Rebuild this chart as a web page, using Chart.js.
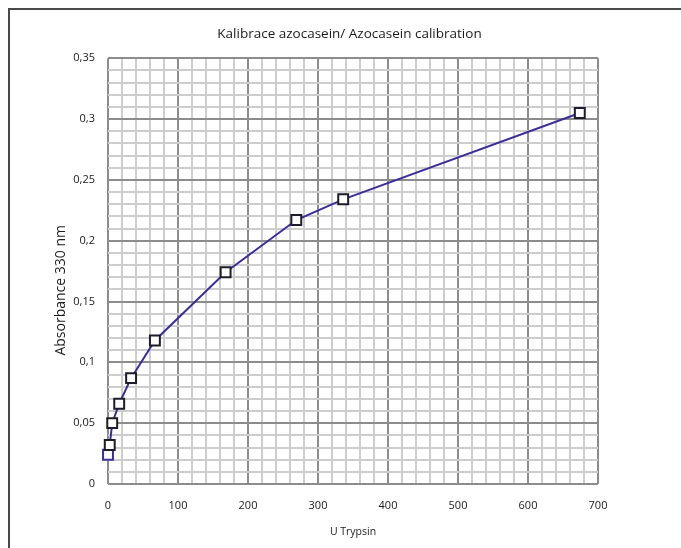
<!DOCTYPE html>
<html><head><meta charset="utf-8">
<script src="https://cdn.jsdelivr.net/npm/chart.js@4"></script>
<style>html,body{margin:0;padding:0;background:#fff;overflow:hidden}</style>
</head><body>
<canvas id="c" width="681" height="548"></canvas>
<script>
const trypsinUnits = [0, 2.5, 6, 16, 33, 67, 168, 269, 336, 674];
const absorbance = [0.024, 0.032, 0.050, 0.066, 0.087, 0.118, 0.174, 0.217, 0.234, 0.305];
const xMajorTicks = [0, 100, 200, 300, 400, 500, 600, 700];
const yMajorTicks = ['0', '0,05', '0,1', '0,15', '0,2', '0,25', '0,3', '0,35'];
const chartTitle = 'Kalibrace azocasein/ Azocasein calibration';
const xTitle = 'U Trypsin';
const yTitle = 'Absorbance 330 nm';

const FONT = '"Open Sans", "Noto Sans", sans-serif';
const lineColor = '#3a2d9c';
const markerColor = '#1c1c2a';

const frame = {
  id: 'frame',
  beforeDraw(chart) {
    const ctx = chart.ctx;
    ctx.save();
    ctx.fillStyle = '#fff';
    ctx.fillRect(0, 0, chart.width, chart.height);
    ctx.strokeStyle = '#4a4a4a';
    ctx.lineWidth = 2;
    ctx.beginPath();
    ctx.moveTo(9, chart.height);
    ctx.lineTo(9, 9);
    ctx.lineTo(chart.width, 9);
    ctx.stroke();
    ctx.restore();
  }
};

// y-axis title, placed where the reference puts it (slightly below the plot centre)
const yAxisTitle = {
  id: 'yAxisTitle',
  afterDraw(chart) {
    const ctx = chart.ctx;
    const area = chart.chartArea;
    ctx.save();
    ctx.translate(61, area.top + (area.bottom - area.top) * 0.545);
    ctx.rotate(-Math.PI / 2);
    ctx.fillStyle = '#1a1a1a';
    ctx.font = '14px ' + FONT;
    ctx.textAlign = 'center';
    ctx.textBaseline = 'middle';
    ctx.fillText(yTitle, 0, 0);
    ctx.restore();
  }
};

const points = trypsinUnits.map((x, i) => ({x, y: absorbance[i]}));

new Chart(document.getElementById('c'), {
  type: 'line',
  data: {
    datasets: [{
      data: points,
      clip: false,
      borderColor: lineColor,
      borderWidth: 2,
      pointStyle: 'rect',
      pointRadius: 7,
      pointHoverRadius: 7,
      pointBorderWidth: 2,
      pointBackgroundColor: '#ffffff',
      pointBorderColor: points.map((p, i) => i === 0 ? lineColor : markerColor),
      tension: 0
    }]
  },
  options: {
    responsive: false,
    animation: false,
    events: [],
    layout: { padding: { left: 18, right: 0, top: 0, bottom: 0 } },
    plugins: {
      legend: { display: false },
      tooltip: { enabled: false },
      title: {
        display: true,
        text: chartTitle,
        color: '#1a1a1a',
        font: { family: FONT, size: 13.5, weight: 'normal', lineHeight: 1.2 },
        padding: { top: 26, bottom: 16 }
      }
    },
    scales: {
      x: {
        type: 'linear',
        min: 0, max: 700,
        afterBuildTicks(scale) {
          const t = [];
          for (let v = 0; v <= 700; v += 20) t.push({ value: v });
          scale.ticks = t;
        },
        afterFit(scale) { scale.height = 548 - 484; },
        ticks: {
          autoSkip: false,
          maxRotation: 0,
          padding: 15,
          color: '#1a1a1a',
          font: { family: FONT, size: 11 },
          callback: (v) => xMajorTicks.includes(v) ? String(v) : ''
        },
        grid: {
          drawTicks: false,
          color: (c) => (c.tick && c.tick.value % 100 === 0) ? '#8c8c8c' : '#cdcdcd',
          lineWidth: 2
        },
        border: { display: false },
        title: {
          display: true,
          text: xTitle,
          color: '#1a1a1a',
          font: { family: FONT, size: 10.5, lineHeight: 1.2 },
          padding: { top: 4, bottom: 10 }
        }
      },
      y: {
        type: 'linear',
        min: 0, max: 0.35,
        afterBuildTicks(scale) {
          const t = [];
          for (let k = 0; k <= 35; k++) t.push({ value: k / 100 });
          scale.ticks = t;
        },
        afterFit(scale) { scale.width = 90; },
        ticks: {
          autoSkip: false,
          padding: 13,
          color: '#1a1a1a',
          font: { family: FONT, size: 11 },
          callback: (v) => {
            const k = Math.round(v * 100);
            return k % 5 === 0 ? yMajorTicks[k / 5] : '';
          }
        },
        grid: {
          drawTicks: false,
          color: (c) => (c.tick && Math.round(c.tick.value * 100) % 5 === 0) ? '#8c8c8c' : '#cdcdcd',
          lineWidth: 2
        },
        border: { display: false },
        title: { display: false }
      },
      yRight: {
        type: 'linear',
        position: 'right',
        display: true,
        min: 0, max: 1,
        afterFit(scale) { scale.width = 83; },
        ticks: { display: false },
        grid: { display: false, drawTicks: false },
        border: { display: false }
      }
    }
  },
  plugins: [frame, yAxisTitle]
});
</script>
</body></html>
